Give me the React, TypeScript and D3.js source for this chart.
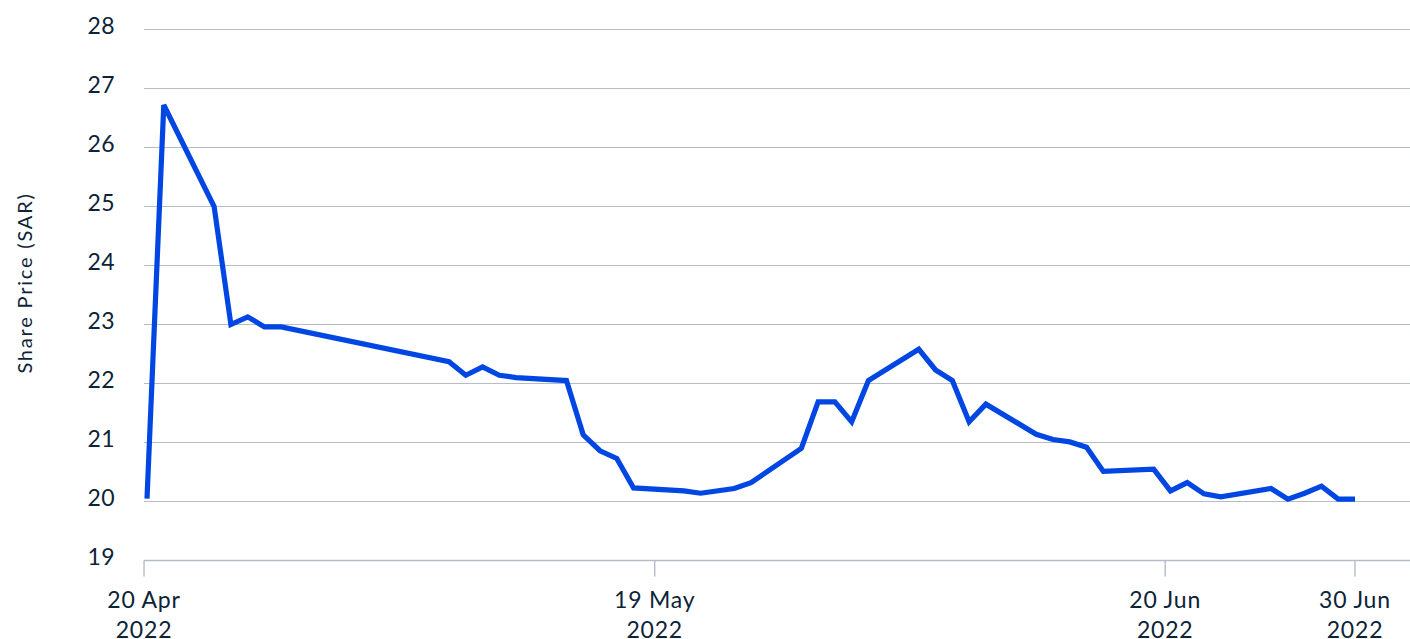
import React from "react";
import * as d3 from "d3";

const dates: string[] = [
  "2022-04-20", "2022-04-21", "2022-04-24", "2022-04-25", "2022-04-26", "2022-04-27", "2022-04-28",
  "2022-05-08", "2022-05-09", "2022-05-10", "2022-05-11", "2022-05-12",
  "2022-05-15", "2022-05-16", "2022-05-17", "2022-05-18", "2022-05-19",
  "2022-05-22", "2022-05-23", "2022-05-25", "2022-05-26",
  "2022-05-29", "2022-05-30", "2022-05-31", "2022-06-01", "2022-06-02",
  "2022-06-05", "2022-06-06", "2022-06-07", "2022-06-08", "2022-06-09",
  "2022-06-12", "2022-06-13", "2022-06-14", "2022-06-15", "2022-06-16",
  "2022-06-19", "2022-06-20", "2022-06-21", "2022-06-22", "2022-06-23",
  "2022-06-26", "2022-06-27", "2022-06-28", "2022-06-29", "2022-06-30", "2022-07-01",
];

const prices: number[] = [
  20.05, 26.72, 25.0, 23.0, 23.13, 22.96, 22.96,
  22.37, 22.14, 22.28, 22.14, 22.1,
  22.05, 21.13, 20.86, 20.73, 20.23,
  20.18, 20.14, 20.22, 20.32,
  20.9, 21.69, 21.69, 21.35, 22.05,
  22.58, 22.23, 22.05, 21.35, 21.65,
  21.14, 21.05, 21.01, 20.92, 20.51,
  20.55, 20.18, 20.32, 20.13, 20.08,
  20.22, 20.04, 20.14, 20.26, 20.04, 20.04,
];

const yTicks: number[] = [19, 20, 21, 22, 23, 24, 25, 26, 27, 28];

const xTickPositions: string[] = ["2022-04-19T19:45", "2022-05-20T06:15", "2022-06-19T16:30", "2022-07-01T00:00"];
const xTickLabels: string[][] = [
  ["20 Apr", "2022"],
  ["19 May", "2022"],
  ["20 Jun", "2022"],
  ["30 Jun", "2022"],
];

const yTitle = "Share Price (SAR)";

const W = 1410;
const H = 639;
const plotLeft = 144;
const plotRight = 1410;
const plotTop = 29.5;
const plotBottom = 560.5;

const TEXT = "#0c2338";
const GRID = "#b3bdc7";
const LINE = "#0046e3";
const FONT = "Lato, 'Open Sans', sans-serif";

export default function App() {
  const parseDay = d3.timeParse("%Y-%m-%d");
  const parseTick = d3.timeParse("%Y-%m-%dT%H:%M");
  const data = dates.map((d, i) => ({ date: parseDay(d) as Date, value: prices[i] }));

  const x = d3
    .scaleTime()
    .domain(d3.extent(data, (d) => d.date) as [Date, Date])
    .range([147, 1355]);
  const y = d3.scaleLinear().domain([19, 28]).range([plotBottom, plotTop]);

  const line = d3
    .line<{ date: Date; value: number }>()
    .x((d) => x(d.date))
    .y((d) => y(d.value));

  return (
    <svg
      width={W}
      height={H}
      style={{ position: "absolute", left: 0, top: 0, background: "#fff" }}
      fontFamily={FONT}
    >
      {yTicks.map((t) => (
        <g key={t}>
          {t !== 19 && (
            <line x1={plotLeft} x2={plotRight} y1={y(t)} y2={y(t)} stroke={GRID} strokeWidth={1.2} />
          )}
          <text x={115} y={y(t) + 4} textAnchor="end" fontSize={23} fill={TEXT} letterSpacing={0.4}>
            {t}
          </text>
        </g>
      ))}
      <line x1={plotLeft} x2={plotRight} y1={y(19)} y2={y(19)} stroke={GRID} strokeWidth={1.4} />
      {xTickPositions.map((p, i) => {
        const xp = x(parseTick(p) as Date);
        return (
          <g key={p}>
            <line x1={xp} x2={xp} y1={y(19)} y2={y(19) + 16} stroke={GRID} strokeWidth={1.4} />
            <text x={xp} y={608} textAnchor="middle" fontSize={23} fill={TEXT} letterSpacing={0.8}>
              {xTickLabels[i][0]}
            </text>
            <text x={xp} y={637.5} textAnchor="middle" fontSize={23} fill={TEXT} letterSpacing={0.8}>
              {xTickLabels[i][1]}
            </text>
          </g>
        );
      })}
      <text
        transform={`translate(32, 283) rotate(-90)`}
        textAnchor="middle"
        fontSize={20}
        letterSpacing={1.8}
        fill={TEXT}
      >
        {yTitle}
      </text>
      <path
        d={line(data) ?? ""}
        fill="none"
        stroke={LINE}
        strokeWidth={5.2}
        strokeLinejoin="miter"
        strokeMiterlimit={2}
      />
    </svg>
  );
}
